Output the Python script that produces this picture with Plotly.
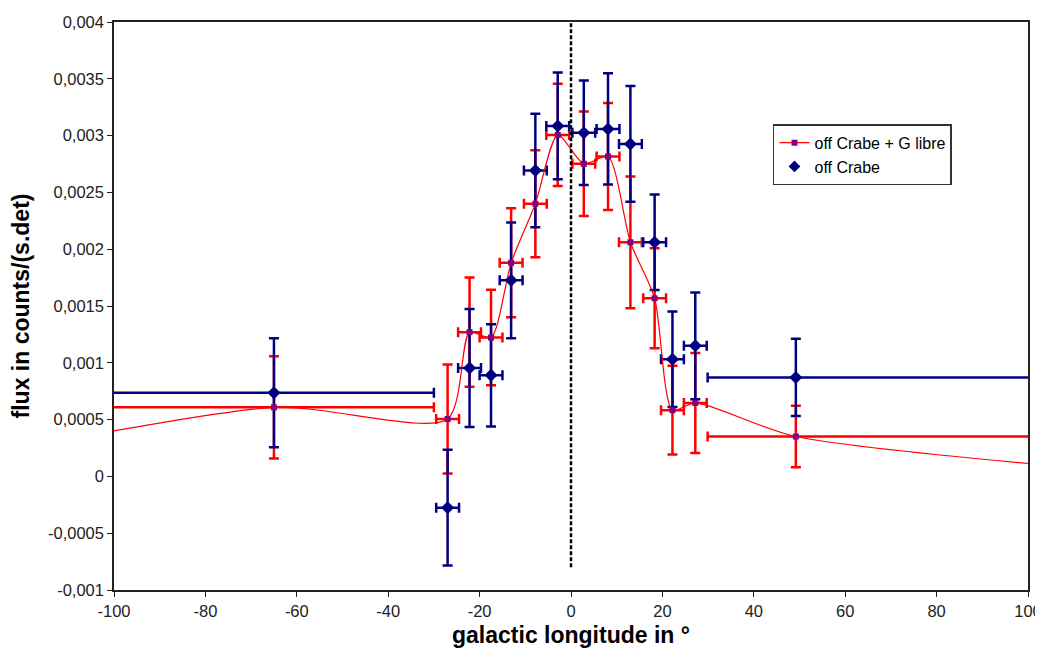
import plotly.graph_objects as go

# ---------------- data ----------------
lon = [-65, -27, -22.2, -17.5, -13.1, -7.8, -2.9, 2.8, 8.1, 13.0, 18.3, 22.2, 27.2, 49.2]
lon_err_plus = [35, 2.5, 2.5, 2.5, 2.5, 2.5, 2.5, 2.5, 2.5, 2.5, 2.5, 2.5, 2.5, 60]
lon_err_minus = [40, 2.5, 2.5, 2.5, 2.5, 2.5, 2.5, 2.5, 2.5, 2.5, 2.5, 2.5, 2.5, 19.3]

flux_blue = [0.000737, -0.000275, 0.000954, 0.00089, 0.001726, 0.002693, 0.003085,
             0.003026, 0.003059, 0.002927, 0.002061, 0.001032, 0.001149, 0.000871]
err_blue = [0.00048, 0.00051, 0.00052, 0.00045, 0.00051, 0.0005, 0.00047,
            0.00046, 0.00049, 0.00051, 0.00042, 0.00042, 0.00047, 0.00034]

flux_red = [0.000608, 0.000506, 0.00127, 0.001222, 0.00188, 0.0024, 0.003006,
            0.002752, 0.002816, 0.002061, 0.001568, 0.000583, 0.000647, 0.000351]
err_red = [0.00045, 0.00048, 0.00048, 0.00042, 0.00048, 0.00047, 0.00045,
           0.00046, 0.00047, 0.00058, 0.00044, 0.00039, 0.00044, 0.00027]

# red series continues beyond the displayed range (outer bins)
lon_outer_left, flux_outer_left = -150, 0.00001
lon_outer_right, flux_outer_right = 150, -0.00006

x_ticks = [-100, -80, -60, -40, -20, 0, 20, 40, 60, 80, 100]
x_ticktext = ["-100", "-80", "-60", "-40", "-20", "0", "20", "40", "60", "80", "100"]
y_ticks = [-0.001, -0.0005, 0, 0.0005, 0.001, 0.0015, 0.002, 0.0025, 0.003, 0.0035, 0.004]
y_ticktext = ["-0,001", "-0,0005", "0", "0,0005", "0,001", "0,0015", "0,002",
              "0,0025", "0,003", "0,0035", "0,004"]

zero_line_x = 0
zero_line_y = [-0.0008, 0.004]

RED = "#FF0000"
NAVY = "#000080"
PURPLE = "#800080"
FONT = "Liberation Sans, Arial, sans-serif"

fig = go.Figure()

# red error bars
fig.add_trace(go.Scatter(
    x=lon, y=flux_red, mode="markers", showlegend=False, hoverinfo="skip",
    marker=dict(size=1, color="rgba(0,0,0,0)"),
    error_y=dict(type="data", array=err_red, color=RED, thickness=2.5, width=5),
    error_x=dict(type="data", array=lon_err_plus, arrayminus=lon_err_minus,
                 color=RED, thickness=2.5, width=5),
))

# blue series with error bars
fig.add_trace(go.Scatter(
    x=lon, y=flux_blue, mode="markers", showlegend=False,
    marker=dict(symbol="diamond", size=10, color=NAVY),
    error_y=dict(type="data", array=err_blue, color=NAVY, thickness=2.5, width=5),
    error_x=dict(type="data", array=lon_err_plus, arrayminus=lon_err_minus,
                 color=NAVY, thickness=2.5, width=5),
))

# red smoothed line with markers
line_x = [lon_outer_left] + lon + [lon_outer_right]
line_y = [flux_outer_left] + flux_red + [flux_outer_right]
fig.add_trace(go.Scatter(
    x=line_x, y=line_y, mode="lines+markers", name="off Crabe + G libre",
    legendrank=1,
    line=dict(color=RED, width=1.2, shape="spline", smoothing=0.7),
    marker=dict(symbol="square", size=6, color=PURPLE),
))

# legend entry for blue series
fig.add_trace(go.Scatter(
    x=lon, y=flux_blue, mode="markers", name="off Crabe", legendrank=2,
    marker=dict(symbol="diamond", size=9, color=NAVY),
))

fig.add_shape(type="line", xref="x", yref="y",
              x0=zero_line_x, x1=zero_line_x, y0=zero_line_y[0], y1=zero_line_y[1],
              line=dict(color="black", width=2.5, dash="4px,2px"))

# page body has an 8px margin; figure sized accordingly
fig.update_layout(
    width=1035, height=646,
    margin=dict(l=106, r=15, t=14, b=64, autoexpand=False),
    paper_bgcolor="white", plot_bgcolor="white",
    font=dict(family=FONT, color="black", size=16),
    showlegend=True,
    legend=dict(x=0.721, y=0.82, xanchor="left", yanchor="top",
                bgcolor="white", bordercolor="#333333", borderwidth=1.5,
                font=dict(family=FONT, size=16), tracegroupgap=0,
                itemwidth=30),
)

fig.update_xaxes(
    range=[-100, 100], tickvals=x_ticks, ticktext=x_ticktext,
    showline=True, linecolor="#222222", linewidth=1.5, mirror=True,
    ticks="outside", ticklen=5, tickcolor="#222222", showgrid=False, zeroline=False,
    tickfont=dict(family=FONT, size=16.5, color="#222222"),
    title=dict(text="<b>galactic longitude in °</b>", font=dict(family=FONT, size=23), standoff=8),
)
fig.update_yaxes(
    range=[-0.001, 0.004], tickvals=y_ticks, ticktext=y_ticktext,
    showline=True, linecolor="#222222", linewidth=1.5, mirror=True,
    ticks="outside", ticklen=5, tickcolor="#222222", showgrid=False, zeroline=False,
    tickfont=dict(family=FONT, size=16.5, color="#222222"),
    title=dict(text="<b>flux in counts/(s.det)</b>", font=dict(family=FONT, size=23), standoff=14),
)

fig.write_html("out.html")
